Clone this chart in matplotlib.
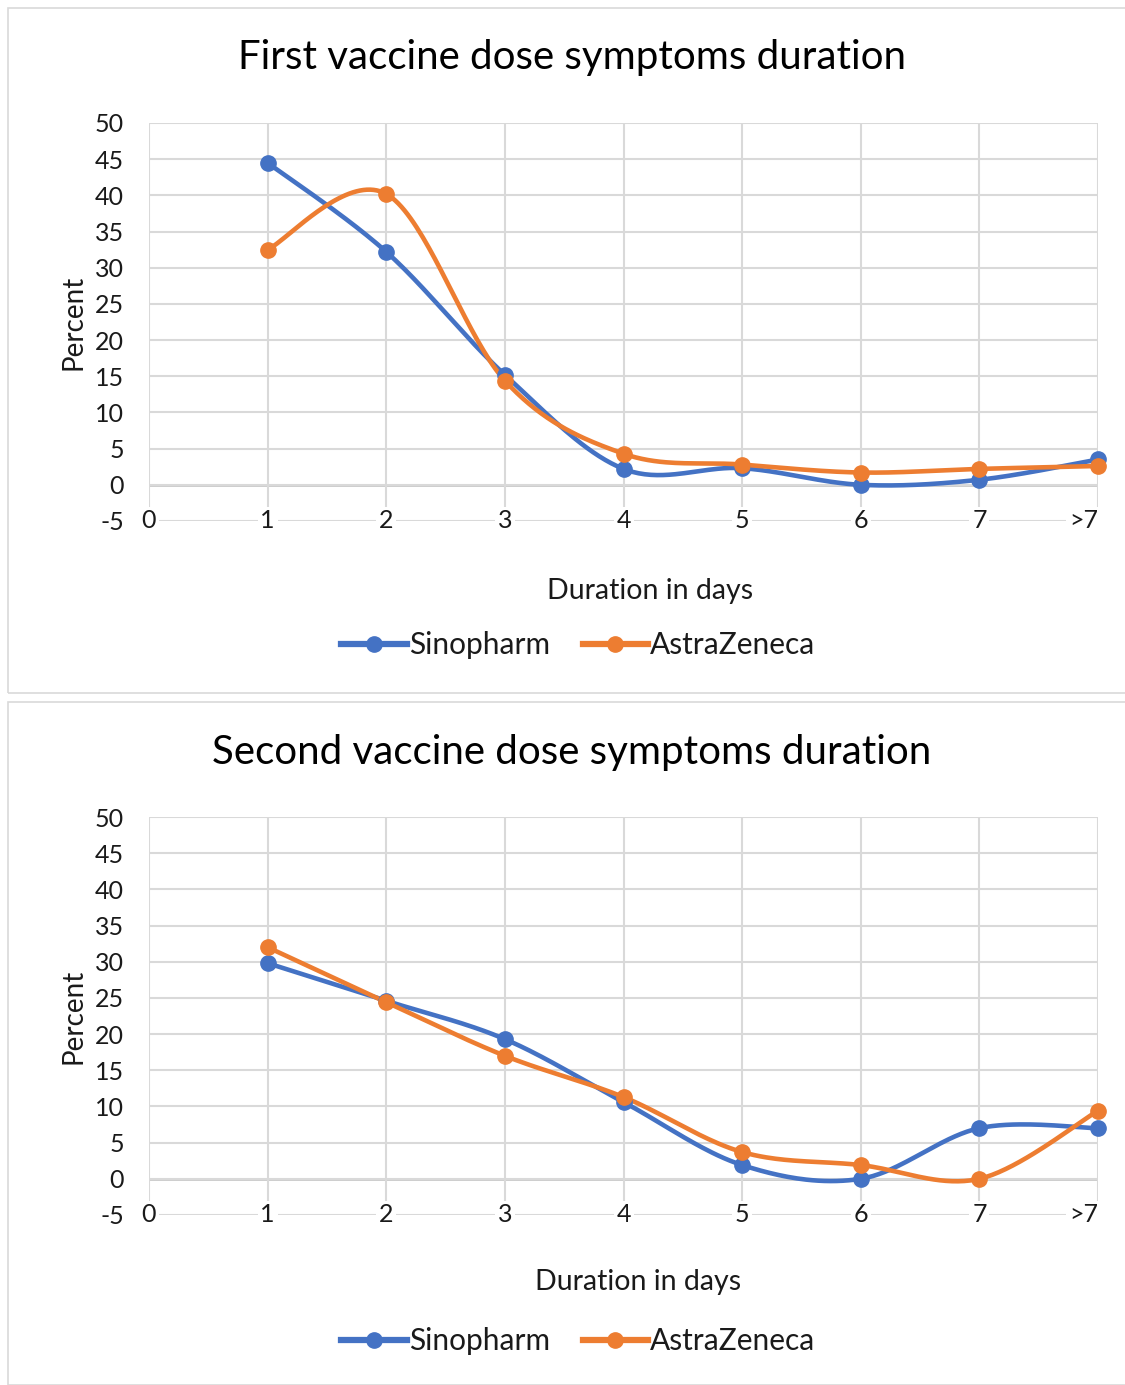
import numpy as np
import matplotlib.pyplot as plt
from matplotlib.lines import Line2D
from matplotlib.patches import Rectangle

plt.rcParams['font.family'] = ['Lato', 'DejaVu Sans']
plt.rcParams['axes.unicode_minus'] = False

# dados
x_labels = ['0', '1', '2', '3', '4', '5', '6', '7', '>7']
days = [1, 2, 3, 4, 5, 6, 7, 8]

first_sinopharm = [44.5, 32.2, 15.2, 2.2, 2.3, 0.0, 0.7, 3.5]
first_astra = [32.5, 40.2, 14.4, 4.3, 2.8, 1.7, 2.2, 2.6]

second_sinopharm = [29.8, 24.6, 19.3, 10.6, 1.9, 0.0, 7.0, 7.0]
second_astra = [32.0, 24.4, 17.0, 11.3, 3.7, 1.9, 0.0, 9.4]

BLUE = '#4472C4'
ORANGE = '#ED7D31'
GRID = '#d9d9d9'
TXT = '#1a1a1a'


# Curva suavizada no estilo do Excel (Bezier com pontos de controle a 1/6)
def smooth(xs, ys, n=40):
    p = np.column_stack([xs, ys]).astype(float)
    p = np.vstack([p[0], p, p[-1]])
    out = []
    t = np.linspace(0, 1, n)[:, None]
    for i in range(1, len(p) - 2):
        p0, p3 = p[i], p[i + 1]
        c1 = p0 + (p[i + 1] - p[i - 1]) / 6
        c2 = p3 - (p[i + 2] - p[i]) / 6
        seg = (1 - t) ** 3 * p0 + 3 * (1 - t) ** 2 * t * c1 + 3 * (1 - t) * t ** 2 * c2 + t ** 3 * p3
        out.append(seg)
    out = np.vstack(out)
    return out[:, 0], out[:, 1]


def draw_panel(fig, rect, title, title_y, xlabel_y, xlabel_x, legend_y, sino, astra):
    ax = fig.add_axes(rect)
    ax.set_xlim(0, 8)
    ax.set_ylim(-5, 50)
    ax.set_yticks(range(-5, 51, 5))
    ax.set_xticks(range(0, 9))
    ax.set_xticklabels([])
    ax.grid(True, color=GRID, lw=1.5, zorder=0)
    for s in ax.spines.values():
        s.set_visible(False)
    ax.tick_params(axis='both', length=0)
    ax.tick_params(axis='y', labelsize=18, pad=18, labelcolor=TXT)
    ax.axhline(0, color='#bfbfbf', lw=1.8, zorder=1)

    for i, lab in enumerate(x_labels):
        ha = 'right' if lab == '>7' else 'center'
        ax.text(i, -5, lab, ha=ha, va='center', fontsize=18, color=TXT,
                bbox=dict(facecolor='white', edgecolor='none', pad=2), zorder=2, clip_on=False)

    for vals, col in [(sino, BLUE), (astra, ORANGE)]:
        sx, sy = smooth(days, vals)
        ax.plot(sx, sy, color=col, lw=3.3, zorder=3, solid_capstyle='round', clip_on=False)
        ax.plot(days, vals, 'o', color=col, ms=11, zorder=4, clip_on=False)

    ax.set_ylabel('Percent', fontsize=20, color=TXT, labelpad=6)

    fig.text(0.508, title_y, title, ha='center', va='center', fontsize=29, color='black')
    fig.text(xlabel_x, xlabel_y, 'Duration in days', ha='center', va='center', fontsize=20.5, color=TXT)

    handles = [Line2D([], [], color=BLUE, lw=4.5, marker='o', ms=11),
               Line2D([], [], color=ORANGE, lw=4.5, marker='o', ms=11)]
    fig.legend(handles, ['Sinopharm', 'AstraZeneca'], loc='center', bbox_to_anchor=(0.514, legend_y),
               ncol=2, frameon=False, fontsize=21.5, handlelength=2.2, handletextpad=0.05,
               columnspacing=1.1, labelcolor=TXT)
    return ax


fig = plt.figure(figsize=(11.25, 13.85), dpi=100)
W, H = 1125, 1385

# molduras dos dois painéis
fig.add_artist(Rectangle((8 / W, 1 - 693 / H), 1, (693 - 8) / H, transform=fig.transFigure,
                         facecolor='none', edgecolor=GRID, lw=1.2))
fig.add_artist(Rectangle((8 / W, 1 - 1385 / H), 1, (1385 - 702) / H, transform=fig.transFigure,
                         facecolor='none', edgecolor=GRID, lw=1.2))

draw_panel(fig, [149 / W, 1 - 521 / H, (1098 - 149) / W, (521 - 123) / H],
           'First vaccine dose symptoms duration', 1 - 58 / H, 1 - 591 / H, 650 / W, 1 - 645 / H,
           first_sinopharm, first_astra)
draw_panel(fig, [149 / W, 1 - 1215 / H, (1098 - 149) / W, (1215 - 817) / H],
           'Second vaccine dose symptoms duration', 1 - 752 / H, 1 - 1282 / H, 638 / W, 1 - 1341 / H,
           second_sinopharm, second_astra)

fig.savefig('out.png', dpi=100)
